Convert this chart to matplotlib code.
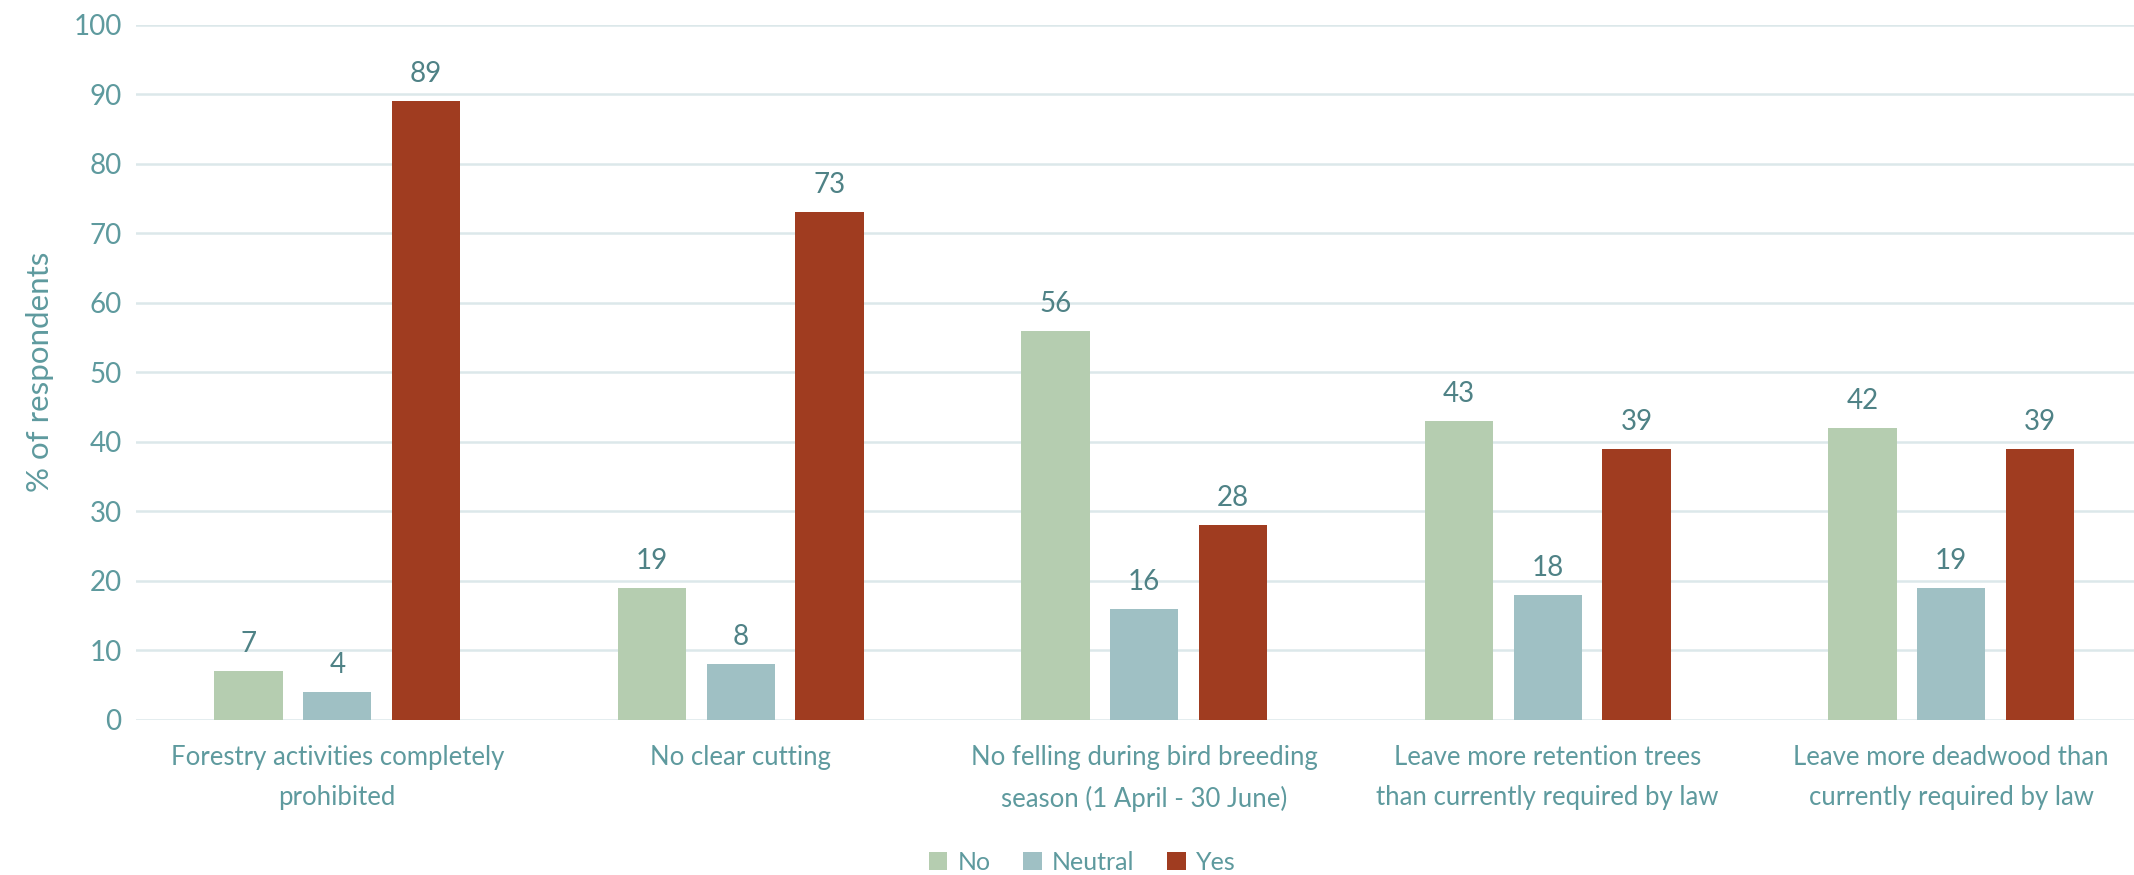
import matplotlib.pyplot as plt
import numpy as np

#Chart data
categories = ["Forestry activities completely\nprohibited",
              "No clear cutting",
              "No felling during bird breeding\nseason (1 April - 30 June)",
              "Leave more retention trees\nthan currently required by law",
              "Leave more deadwood than\ncurrently required by law"]
series_names = ["No", "Neutral", "Yes"]
no_vals = [7, 19, 56, 43, 42]
neutral_vals = [4, 8, 16, 18, 19]
yes_vals = [89, 73, 28, 39, 39]

#Styling
colors = ["#B5CDB0", "#9FC0C4", "#A03C20"]
tick_color = "#5E9A9E"
value_color = "#4F8286"
grid_color = "#DCE8EA"
plt.rcParams['font.family'] = ['Lato', 'DejaVu Sans']

fig = plt.figure(figsize=(21.34, 8.75), dpi=100)
ax = fig.add_axes([135.5 / 2134, 155 / 875, (2134 - 135.5) / 2134, (720 - 24.5) / 875])

x = np.arange(len(categories))
width = 0.169
step = 0.22
all_vals = [no_vals, neutral_vals, yes_vals]

for i, (name, vals) in enumerate(zip(series_names, all_vals)):
    bars = ax.bar(x + (i - 1) * step, vals, width, color=colors[i], label=name, zorder=3)
    for b, v in zip(bars, vals):
        ax.annotate(str(v), (b.get_x() + b.get_width() / 2, v), xytext=(0, 10),
                    textcoords="offset points", ha="center", va="bottom",
                    fontsize=20, color=value_color)

ax.set_xlim(-0.5, -0.5 + (2134 - 135.5) / 403.5)
ax.set_ylim(0, 100)
ax.set_yticks(range(0, 101, 10))
ax.set_xticks(x)
ax.set_xticklabels(categories, fontsize=18.5, color=tick_color, linespacing=1.75)
ax.tick_params(axis="y", labelsize=20, labelcolor=tick_color, length=0, pad=10)
ax.tick_params(axis="x", length=0, pad=18)
ax.grid(axis="y", color=grid_color, linewidth=1.8, zorder=0)
for s in ax.spines.values():
    s.set_visible(False)

ax.set_ylabel("% of respondents", fontsize=22.5, color=tick_color, labelpad=14)

fig.legend(loc="lower center", bbox_to_anchor=(0.507, -0.024), ncol=3, frameon=False,
           fontsize=18, labelcolor=tick_color, handlelength=0.75, handleheight=0.75,
           handletextpad=0.4, columnspacing=1.3)

fig.savefig("out.png", dpi=100)
